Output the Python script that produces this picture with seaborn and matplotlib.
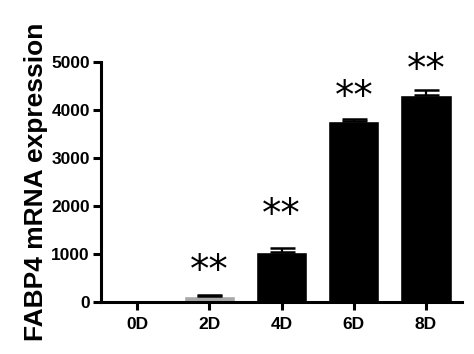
"""FABP4 mRNA expression bar chart (GraphPad style)."""

import matplotlib

matplotlib.use("Agg")
import matplotlib.pyplot as plt
import pandas as pd
import seaborn as sns

days = ["0D", "2D", "4D", "6D", "8D"]
expression = [2, 130, 1040, 3760, 4310]
sem = [0, 10, 90, 60, 100]
stars = ["", "**", "**", "**", "**"]
bar_colors = ["#000000", "#a8a8a8", "#000000", "#000000", "#000000"]
star_offset = [0, 110, 290, 60, 20]

sns.set_style("ticks")
plt.rcParams["font.family"] = ["Liberation Sans", "DejaVu Sans"]

df = pd.DataFrame({"day": days, "expression": expression})

fig = plt.figure(figsize=(4.74, 3.54), dpi=100)
ax = fig.add_axes([0.213, 0.147, 0.762, 0.678])

sns.barplot(data=df, x="day", y="expression", hue="day", palette=bar_colors,
            width=0.71, legend=False, saturation=1, errorbar=None, ax=ax)
ax.errorbar(range(len(days)), expression, yerr=[[0] * len(days), sem],
            fmt="none", ecolor="black", elinewidth=1.6, capsize=9, capthick=1.8)

for i, s in enumerate(stars):
    if s:
        ax.text(i, expression[i] + sem[i] + star_offset[i], s, ha="center", va="bottom",
                fontsize=28, family="DejaVu Sans", color="black")

ax.set_xlim(-0.5, 4.5)
ax.set_ylim(0, 5000)
ax.set_yticks([0, 1000, 2000, 3000, 4000, 5000])
ax.set_xlabel("")
ax.set_ylabel("FABP4 mRNA expression", fontsize=19, fontweight="bold",
              color="black", labelpad=2)
for lab in ax.get_xticklabels() + ax.get_yticklabels():
    lab.set_fontweight("bold")
ax.tick_params(axis="both", labelsize=12.5, width=2.2, length=6, color="black",
               labelcolor="black", pad=2)
ax.tick_params(axis="x", pad=5)
sns.despine(ax=ax)
for side in ["left", "bottom"]:
    ax.spines[side].set_linewidth(2.2)
    ax.spines[side].set_color("black")

fig.savefig("out.png", dpi=100)
plt.close(fig)
